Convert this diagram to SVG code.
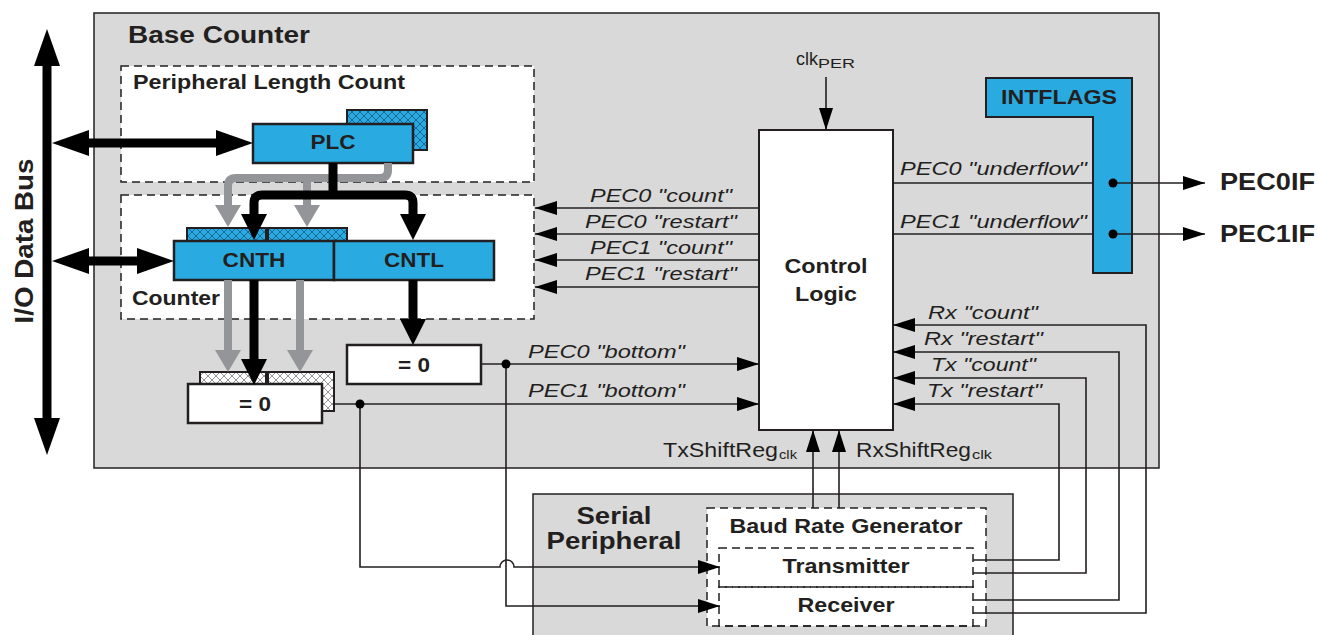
<svg xmlns="http://www.w3.org/2000/svg" width="1318" height="635" viewBox="0 0 1318 635">
<defs>
<style>
text{font-family:"Liberation Sans",Arial,Helvetica,sans-serif;fill:#231f20}
.b{font-weight:bold}
.i{font-style:italic}
.frame{fill:#d9d9d9;stroke:#231f20;stroke-width:1.5}
.dash{fill:#fff;stroke:#231f20;stroke-width:1.5;stroke-dasharray:8 5}
.dashn{fill:none;stroke:#231f20;stroke-width:1.5;stroke-dasharray:8 5}
.reg{fill:#29abe2;stroke:#231f20;stroke-width:2.5}
.hatch{fill:url(#hb);stroke:#231f20;stroke-width:2}
.ghatch{fill:url(#hg);stroke:#231f20;stroke-width:2}
.box{fill:#fff;stroke:#231f20;stroke-width:2.5}
.thin{fill:none;stroke:#231f20;stroke-width:1.6}
.thick{fill:none;stroke:#000;stroke-width:9}
.gray{fill:none;stroke:#939598;stroke-width:8}
.dot{fill:#000}
</style>
<pattern id="hb" patternUnits="userSpaceOnUse" width="8" height="8">
<rect width="8" height="8" fill="#29abe2"/>
<path d="M0,0L8,8M8,0L0,8" stroke="#1c5f8f" stroke-width="0.9"/>
</pattern>
<pattern id="hg" patternUnits="userSpaceOnUse" width="8" height="8">
<rect width="8" height="8" fill="#fff"/>
<path d="M0,0L8,8M8,0L0,8" stroke="#8a8a8a" stroke-width="0.9"/>
</pattern>
<marker id="ah" markerUnits="userSpaceOnUse" markerWidth="22" markerHeight="14" refX="22" refY="7" orient="auto">
<path d="M0,0L22,7L0,14z" fill="#000"/>
</marker>
<marker id="big" markerUnits="userSpaceOnUse" markerWidth="37" markerHeight="26" refX="0" refY="13" orient="auto-start-reverse">
<path d="M0,0L37,13L0,26z" fill="#000"/>
</marker>
<marker id="mid" markerUnits="userSpaceOnUse" markerWidth="26" markerHeight="26" refX="0" refY="13" orient="auto-start-reverse">
<path d="M0,0L26,13L0,26z" fill="#000"/>
</marker>
<marker id="gh" markerUnits="userSpaceOnUse" markerWidth="22" markerHeight="26" refX="0" refY="13" orient="auto">
<path d="M0,0L22,13L0,26z" fill="#939598"/>
</marker>
</defs>

<g id="base-counter">
<rect class="frame" x="94" y="13" width="1065" height="455"/>
<text class="b" x="128" y="43" font-size="24" textLength="182" lengthAdjust="spacingAndGlyphs">Base Counter</text>
</g>

<g id="serial-peripheral">
<rect class="frame" x="533" y="494" width="480" height="160"/>
<text class="b" x="614" y="524" font-size="23" text-anchor="middle" textLength="75" lengthAdjust="spacingAndGlyphs">Serial</text>
<text class="b" x="614" y="549" font-size="23" text-anchor="middle" textLength="135" lengthAdjust="spacingAndGlyphs">Peripheral</text>
</g>

<g id="peripheral-length-count">
<rect class="dash" x="121" y="66" width="413" height="116"/>
<text class="b" x="133" y="89" font-size="20" textLength="272" lengthAdjust="spacingAndGlyphs">Peripheral Length Count</text>
</g>

<g id="counter">
<rect class="dash" x="121" y="195" width="413" height="124"/>
<text class="b" x="132" y="305" font-size="20" textLength="88" lengthAdjust="spacingAndGlyphs">Counter</text>
</g>

<g id="baud-rate-generator">
<rect class="dash" x="707" y="508" width="279" height="118"/>
<text class="b" x="846" y="533" font-size="20" text-anchor="middle" textLength="233" lengthAdjust="spacingAndGlyphs">Baud Rate Generator</text>
</g>

<g id="transmitter">
<rect class="dashn" x="719" y="548" width="254" height="39"/>
<text class="b" x="846" y="573" font-size="20" text-anchor="middle" textLength="127" lengthAdjust="spacingAndGlyphs">Transmitter</text>
</g>

<g id="receiver">
<rect class="dashn" x="719" y="587" width="254" height="39"/>
<text class="b" x="846" y="612" font-size="20" text-anchor="middle" textLength="97" lengthAdjust="spacingAndGlyphs">Receiver</text>
</g>

<g id="plc">
<rect class="hatch" x="347" y="110" width="80" height="40"/>
<rect class="reg" x="253" y="124" width="160" height="39"/>
<text class="b" x="333" y="149" font-size="20" text-anchor="middle" textLength="45" lengthAdjust="spacingAndGlyphs">PLC</text>
</g>

<g id="cnth">
<rect class="hatch" x="187" y="228" width="79" height="14"/>
<rect class="hatch" x="268" y="228" width="79" height="14"/>
<rect class="reg" x="174" y="241" width="160" height="39"/>
<text class="b" x="254" y="267" font-size="20" text-anchor="middle" textLength="63" lengthAdjust="spacingAndGlyphs">CNTH</text>
</g>

<g id="cntl">
<rect class="reg" x="334" y="241" width="160" height="39"/>
<text class="b" x="414" y="267" font-size="20" text-anchor="middle" textLength="60" lengthAdjust="spacingAndGlyphs">CNTL</text>
</g>

<g id="zero-pec0">
<rect class="box" x="347" y="345" width="134" height="39"/>
<text class="b" x="414" y="372" font-size="20" text-anchor="middle" textLength="32" lengthAdjust="spacingAndGlyphs">= 0</text>
</g>

<g id="zero-pec1">
<rect class="ghatch" x="200" y="372" width="66" height="39"/>
<rect class="ghatch" x="268" y="372" width="66" height="39"/>
<rect class="box" x="188" y="384" width="134" height="39"/>
<text class="b" x="255" y="411" font-size="20" text-anchor="middle" textLength="32" lengthAdjust="spacingAndGlyphs">= 0</text>
</g>

<g id="control-logic">
<rect x="759" y="130" width="134" height="300" fill="#fff" stroke="#231f20" stroke-width="2"/>
<text class="b" x="826" y="273" font-size="21" text-anchor="middle" textLength="83" lengthAdjust="spacingAndGlyphs">Control</text>
<text class="b" x="826" y="301" font-size="21" text-anchor="middle" textLength="62" lengthAdjust="spacingAndGlyphs">Logic</text>
</g>

<g id="intflags">
<polygon points="986,78 1132,78 1132,273 1093,273 1093,117 986,117" fill="#29abe2" stroke="#231f20" stroke-width="2"/>
<text class="b" x="1001" y="104" font-size="20" textLength="116" lengthAdjust="spacingAndGlyphs">INTFLAGS</text>
</g>

<g id="io-data-bus">
<text class="b" transform="translate(33,241) rotate(-90)" font-size="25" text-anchor="middle" textLength="165" lengthAdjust="spacingAndGlyphs">I/O Data Bus</text>
</g>

<g id="outputs">
<text class="b" x="1220" y="190" font-size="23" textLength="95" lengthAdjust="spacingAndGlyphs">PEC0IF</text>
<text class="b" x="1220" y="242" font-size="23" textLength="95" lengthAdjust="spacingAndGlyphs">PEC1IF</text>
</g>

<g id="connectors">
<path class="gray" d="M388,163 V170 Q388,178 380,178 H236 Q228,178 228,186 V205" marker-end="url(#gh)"/>
<path class="gray" d="M307,178 V205" marker-end="url(#gh)"/>
<path class="gray" d="M228,280 V350" marker-end="url(#gh)"/>
<path class="gray" d="M300,280 V350" marker-end="url(#gh)"/>
<path class="thick" d="M47,66 V418" marker-start="url(#big)" marker-end="url(#big)"/>
<path class="thick" d="M89,143 H216" marker-start="url(#big)" marker-end="url(#big)"/>
<path class="thick" d="M89,261 H137" marker-start="url(#big)" marker-end="url(#big)"/>
<path class="thick" d="M333,163 V195"/>
<path class="thick" d="M254,214 V203 Q254,195 262,195 H405 Q413,195 413,203 V214" marker-start="url(#mid)" marker-end="url(#mid)"/>
<path class="thick" d="M254,280 V359" marker-end="url(#mid)"/>
<path class="thick" d="M413,280 V319" marker-end="url(#mid)"/>
<path class="thin" d="M826,77 V130" marker-end="url(#ah)"/>
<path class="thin" d="M759,208 H535" marker-end="url(#ah)"/>
<path class="thin" d="M759,234 H535" marker-end="url(#ah)"/>
<path class="thin" d="M759,260 H535" marker-end="url(#ah)"/>
<path class="thin" d="M759,287 H535" marker-end="url(#ah)"/>
<path class="thin" d="M893,183 H1093"/>
<path class="thin" d="M893,234 H1093"/>
<path class="thin" d="M1113,183 H1205" marker-end="url(#ah)"/>
<path class="thin" d="M1113,234 H1205" marker-end="url(#ah)"/>
<path class="thin" d="M481,364 H759" marker-end="url(#ah)"/>
<path class="thin" d="M334,404 H759" marker-end="url(#ah)"/>
<path class="thin" d="M506,364 V606 H720" marker-end="url(#ah)"/>
<path class="thin" d="M360,404 V567 H500 A7,7 0 0 1 514,567 H720" marker-end="url(#ah)"/>
<path class="thin" d="M973,560 H1059 V404 H893" marker-end="url(#ah)"/>
<path class="thin" d="M973,573 H1086 V378 H893" marker-end="url(#ah)"/>
<path class="thin" d="M973,600 H1119 V352 H893" marker-end="url(#ah)"/>
<path class="thin" d="M973,613 H1146 V325 H893" marker-end="url(#ah)"/>
<path class="thin" d="M813,508 V430" marker-end="url(#ah)"/>
<path class="thin" d="M839,508 V430" marker-end="url(#ah)"/>
<circle class="dot" cx="1113" cy="183" r="4.5"/>
<circle class="dot" cx="1113" cy="234" r="4.5"/>
<circle class="dot" cx="506" cy="364" r="4.5"/>
<circle class="dot" cx="360" cy="404" r="4.5"/>
<text x="796" y="65" font-size="19" textLength="22" lengthAdjust="spacingAndGlyphs">clk</text>
<text x="818" y="68" font-size="13" textLength="37" lengthAdjust="spacingAndGlyphs">PER</text>
<text class="i" x="661" y="202" font-size="19" text-anchor="middle" textLength="142" lengthAdjust="spacingAndGlyphs">PEC0 "count"</text>
<text class="i" x="661" y="228" font-size="19" text-anchor="middle" textLength="152" lengthAdjust="spacingAndGlyphs">PEC0 "restart"</text>
<text class="i" x="661" y="254" font-size="19" text-anchor="middle" textLength="142" lengthAdjust="spacingAndGlyphs">PEC1 "count"</text>
<text class="i" x="661" y="280" font-size="19" text-anchor="middle" textLength="152" lengthAdjust="spacingAndGlyphs">PEC1 "restart"</text>
<text class="i" x="900" y="175" font-size="19" textLength="187" lengthAdjust="spacingAndGlyphs">PEC0 "underflow"</text>
<text class="i" x="900" y="228" font-size="19" textLength="187" lengthAdjust="spacingAndGlyphs">PEC1 "underflow"</text>
<text class="i" x="528" y="358" font-size="19" textLength="157" lengthAdjust="spacingAndGlyphs">PEC0 "bottom"</text>
<text class="i" x="528" y="397" font-size="19" textLength="157" lengthAdjust="spacingAndGlyphs">PEC1 "bottom"</text>
<text class="i" x="928" y="319" font-size="19" textLength="110" lengthAdjust="spacingAndGlyphs">Rx "count"</text>
<text class="i" x="924" y="345" font-size="19" textLength="119" lengthAdjust="spacingAndGlyphs">Rx "restart"</text>
<text class="i" x="931" y="371" font-size="19" textLength="105" lengthAdjust="spacingAndGlyphs">Tx "count"</text>
<text class="i" x="927" y="397" font-size="19" textLength="115" lengthAdjust="spacingAndGlyphs">Tx "restart"</text>
<text x="663" y="457" font-size="20" textLength="115" lengthAdjust="spacingAndGlyphs">TxShiftReg</text>
<text x="779" y="459" font-size="13" textLength="18" lengthAdjust="spacingAndGlyphs">clk</text>
<text x="856" y="457" font-size="20" textLength="115" lengthAdjust="spacingAndGlyphs">RxShiftReg</text>
<text x="972" y="459" font-size="13" textLength="20" lengthAdjust="spacingAndGlyphs">clk</text>
</g>
</svg>
